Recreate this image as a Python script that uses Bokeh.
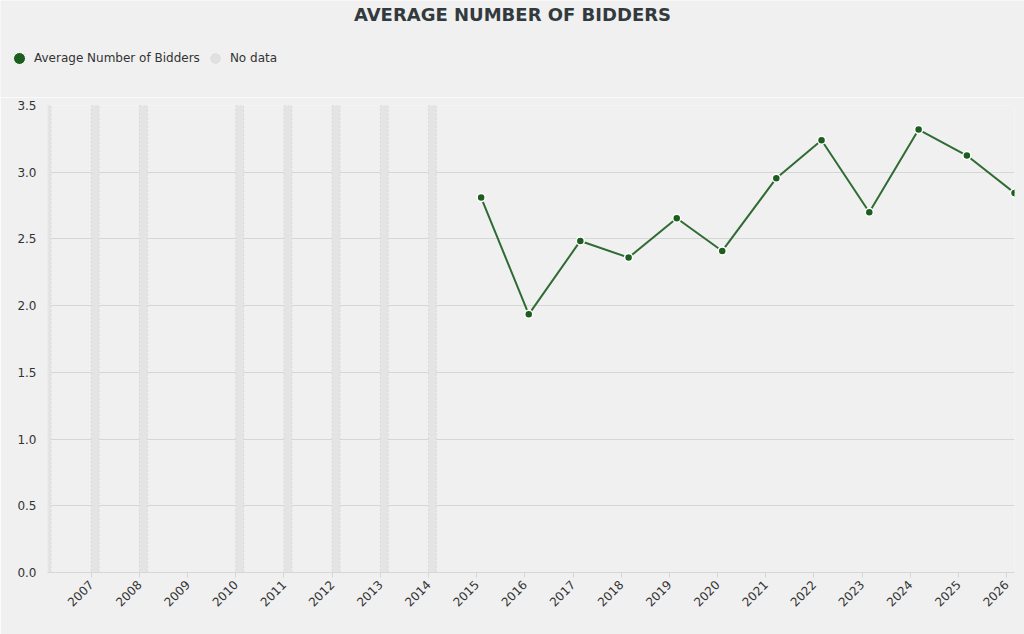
from datetime import datetime
from math import pi

import numpy as np
import pandas as pd
from bokeh.embed import file_html
from bokeh.layouts import column
from bokeh.models import (ColumnDataSource, DatetimeTickFormatter, FixedTicker, Label,
                          Legend, LegendItem, PrintfTickFormatter, Range1d)
from bokeh.plotting import figure
from bokeh.resources import INLINE

# values
bid_dates = ["2015-02-04", "2016-01-31", "2017-02-25", "2018-02-26", "2019-02-26",
             "2020-02-06", "2021-03-22", "2022-02-28", "2023-02-25", "2024-03-05",
             "2025-03-06", "2026-03-02"]
avg_bidders = [2.81, 1.935, 2.485, 2.36, 2.655, 2.41, 2.955, 3.24, 2.70, 3.32, 3.125, 2.845]
no_data_years = [2006, 2007, 2008, 2010, 2011, 2012, 2013, 2014]
tick_years = list(range(2007, 2027))
y_ticks = [0.0, 0.5, 1.0, 1.5, 2.0, 2.5, 3.0, 3.5]

BG = "#f0f0f0"
FONT = "DejaVu Sans"
TEXT = "#333333"
GREEN = "#1b5e20"
NODATA = "#e0e0e0"

src = ColumnDataSource(data=dict(x=pd.to_datetime(bid_dates), y=avg_bidders))
nd = ColumnDataSource(data=dict(
    left=[datetime(y, 1, 1) for y in no_data_years],
    right=[datetime(y, 3, 1) for y in no_data_years],
))


def ms(y):
    return (datetime(y, 1, 1) - datetime(1970, 1, 1)).total_seconds() * 1000


# header: title + legend (frame fills the whole strip)
head = figure(width=1024, height=97, x_range=Range1d(0, 1), y_range=Range1d(0, 1),
              x_axis_location=None, y_axis_location=None,
              output_backend="svg", toolbar_location=None,
              background_fill_color=BG, border_fill_color=BG, outline_line_color=None,
              min_border=0)
head.frame_align = False
head.grid.visible = False

head.add_layout(Label(x=512, y=83.5, x_units="screen", y_units="screen",
                      text="AVERAGE NUMBER OF BIDDERS", text_align="center",
                      text_baseline="middle", text_font=FONT, text_font_size="18px",
                      text_font_style="bold", text_color="#333a3d"))

key_avg = head.scatter(x=[0], y=[np.nan], fill_color=GREEN, line_color="white", line_width=1)
key_nd = head.scatter(x=[0], y=[np.nan], fill_color=NODATA, line_color="#f6f6f6", line_width=1)

legend = Legend(items=[LegendItem(label="Average Number of Bidders", renderers=[key_avg]),
                       LegendItem(label="No data", renderers=[key_nd])],
                location=(4, 23), orientation="horizontal",
                glyph_width=30, glyph_height=32, label_standoff=0, spacing=0,
                padding=0, margin=0, border_line_color=None, background_fill_alpha=0,
                label_text_font=FONT, label_text_font_size="12px", label_text_color=TEXT)
head.add_layout(legend, "center")

# main chart
p = figure(width=1024, height=537, x_axis_type="datetime",
           x_range=Range1d(datetime(2006, 2, 3), pd.to_datetime(bid_dates[-1])),
           y_range=Range1d(0, 3.5),
           output_backend="svg", toolbar_location=None,
           background_fill_color=BG, border_fill_color=BG, outline_line_color=None,
           min_border_left=47, min_border_right=10, min_border_top=8, min_border_bottom=62)
p.frame_align = False

p.quad(left="left", right="right", bottom=0, top=3.5, source=nd,
       fill_color="#e4e4e4", line_color="#d8d8d8", line_dash="2 2", line_width=1)
p.line("x", "y", source=src, line_color="#2f6b33", line_width=2)
p.scatter("x", "y", source=src, size=8, fill_color=GREEN, line_color="white", line_width=1.5)

p.xgrid.grid_line_color = None
p.ygrid.grid_line_color = "#d6d6d6"
p.ygrid.ticker = FixedTicker(ticks=y_ticks)

xa = p.xaxis[0]
xa.ticker = FixedTicker(ticks=[ms(y) for y in tick_years])
xa.formatter = DatetimeTickFormatter(years="%Y", months="%Y", days="%Y",
                                     hours="%Y", minutes="%Y", seconds="%Y")
xa.major_label_orientation = pi / 4
xa.axis_line_color = "#d6d6d6"
xa.major_tick_line_color = "#d6d6d6"
xa.major_tick_in = 0
xa.major_tick_out = 5
xa.minor_tick_line_color = None
xa.major_label_text_font = FONT
xa.major_label_text_font_size = "12px"
xa.major_label_text_color = TEXT

ya = p.yaxis[0]
ya.ticker = FixedTicker(ticks=y_ticks)
ya.formatter = PrintfTickFormatter(format="%.1f")
ya.axis_line_color = None
ya.major_tick_line_color = None
ya.minor_tick_line_color = None
ya.major_label_text_font = FONT
ya.major_label_text_font_size = "12px"
ya.major_label_text_color = TEXT

page = column(head, p, spacing=0)
open("out.html", "w").write(file_html(page, INLINE))
